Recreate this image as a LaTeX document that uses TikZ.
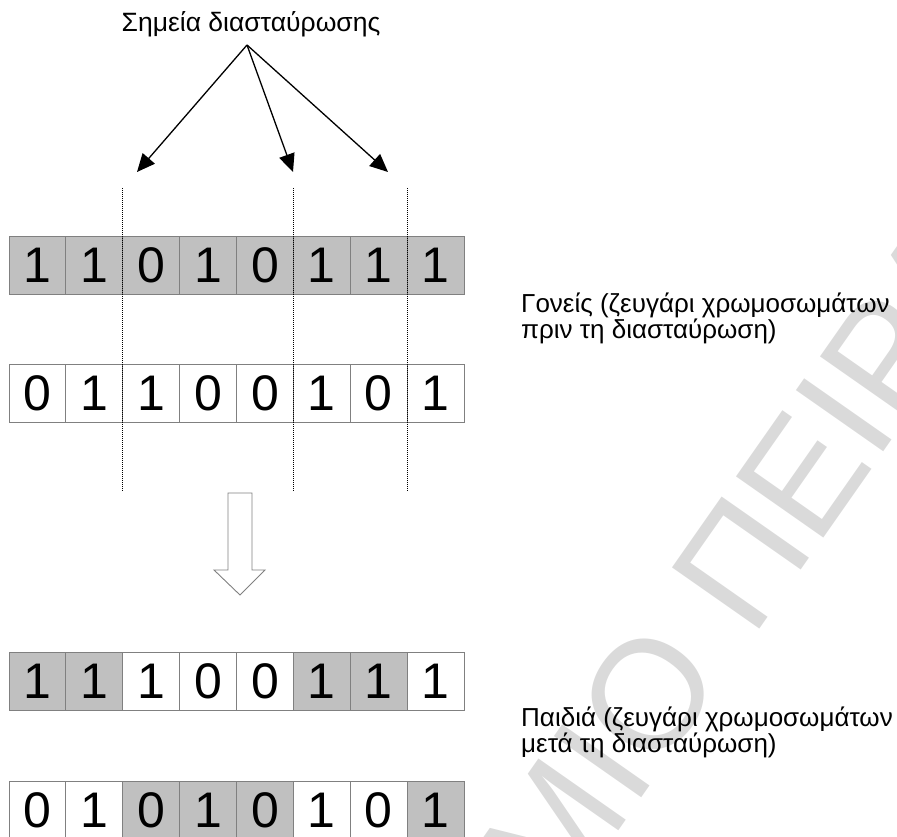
\documentclass[tikz,border=0pt]{standalone}
\usepackage{fontspec}
\setmainfont{Liberation Sans}
\usetikzlibrary{arrows.meta,calc}
\definecolor{cellgray}{RGB}{192,192,192}
\definecolor{bordergray}{RGB}{128,128,128}
\definecolor{wmgray}{RGB}{218,218,218}
\tikzset{
  cellbase/.style={draw=bordergray, line width=0.9pt, minimum width=56.875pt,
    minimum height=58pt, inner sep=0pt, font=\fontsize{50}{50}\selectfont},
  cellg/.style={cellbase, fill=cellgray},
  cellw/.style={cellbase, fill=white},
  dline/.style={line width=1pt, dash pattern=on 1pt off 1pt},
  arr/.style={line width=1.3pt, -{Triangle[length=18pt,width=16pt]}},
  lbl/.style={font=\fontsize{26}{24}\selectfont, align=left, inner sep=0pt},
  wm/.style={text=wmgray, font=\fontsize{155}{155}\selectfont, rotate=55, inner sep=0pt},
}
\begin{document}
\begin{tikzpicture}[x=1pt,y=1pt]
\useasboundingbox (0,0) rectangle (897,836);
\clip (0,0) rectangle (897,836);
% watermark
\coordinate (wmP) at (752,196);
\node[wm, anchor=base west] (wmB) at (wmP) {ΠΕΙΡΑΙΑ};
\node[wm, anchor=base east] (wmA) at ($(wmP)+(235:43.1)$) {ΠΑΝΕΠΙΣΤΗΜΙΟ};
% title
\node[font=\fontsize{26.5}{26.5}\selectfont, inner sep=0pt, anchor=base] (t) at (251,804) {Σημεία διασταύρωσης};
% rows
\foreach \v/\f [count=\i] in {1/g,1/g,0/g,1/g,0/g,1/g,1/g,1/g}
  \node[cell\f] (r1c\i) at ({9+56.875*(\i-0.5)},571) {\v};
\foreach \v/\f [count=\i] in {0/w,1/w,1/w,0/w,0/w,1/w,0/w,1/w}
  \node[cell\f] (r2c\i) at ({9+56.875*(\i-0.5)},443) {\v};
\foreach \v/\f [count=\i] in {1/g,1/g,1/w,0/w,0/w,1/g,1/g,1/w}
  \node[cell\f] (r3c\i) at ({9+56.875*(\i-0.5)},155) {\v};
\foreach \v/\f [count=\i] in {0/w,1/w,0/g,1/g,0/g,1/w,0/w,1/g}
  \node[cell\f] (r4c\i) at ({9+56.875*(\i-0.5)},26) {\v};
% crossover dotted lines
\coordinate (d1t) at (122.75,648); \coordinate (d1b) at (122.75,344);
\coordinate (d2t) at (293.4,648);  \coordinate (d2b) at (293.4,344);
\coordinate (d3t) at (407.1,648);  \coordinate (d3b) at (407.1,344);
\draw[dline] (d1t) -- (d1b);
\draw[dline] (d2t) -- (d2b);
\draw[dline] (d3t) -- (d3b);
% arrows
\coordinate (apex) at (247,791);
\coordinate (x1) at (137,664);
\coordinate (x2) at (293,664);
\coordinate (x3) at (388,664);
\draw[arr] (apex) -- (x1);
\draw[arr] (apex) -- (x2);
\draw[arr] (apex) -- (x3);
% big hollow arrow
\draw[draw=bordergray, line width=0.9pt, fill=white]
  (228,343) -- (252,343) -- (252,266) -- (265,266) -- (240,241) -- (214,266) -- (228,266) -- cycle;
% labels
\node[lbl, anchor=base west] (lp) at (521,497.5) {Γονείς (ζευγάρι χρωμοσωμάτων\\πριν τη διασταύρωση)};
\node[lbl, anchor=base west] (lc) at (521,83.5) {Παιδιά (ζευγάρι χρωμοσωμάτων\\μετά τη διασταύρωση)};
\end{tikzpicture}
\end{document}
